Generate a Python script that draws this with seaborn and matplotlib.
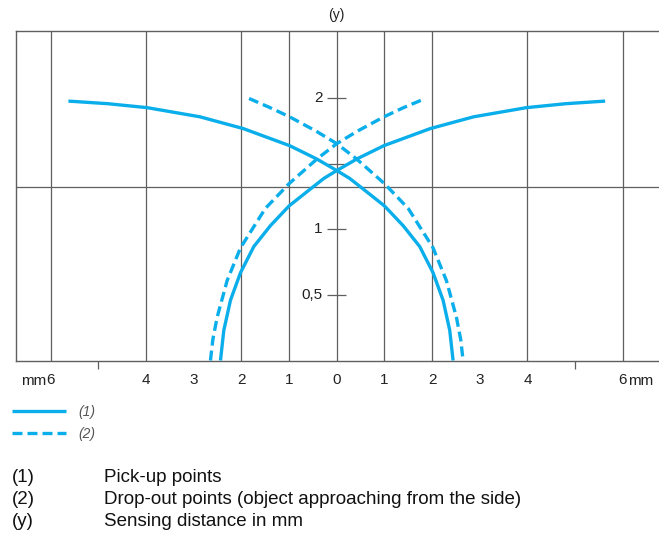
import matplotlib
matplotlib.use("Agg")
import matplotlib.pyplot as plt
import matplotlib.transforms as mtransforms
import seaborn as sns
import pandas as pd

# ---------------- data (mm) ----------------
# (1) Pick-up points, branch falling to the right
pickup_a_x = [-5.63, -4.8, -3.98, -2.87, -1.96, -0.99, -0.43, 0.0, 0.27, 0.55, 1.0, 1.39, 1.74, 2.02, 2.23, 2.37, 2.44]
pickup_a_y = [1.98, 1.96, 1.93, 1.86, 1.77, 1.64, 1.54, 1.45, 1.39, 1.31, 1.18, 1.03, 0.87, 0.67, 0.46, 0.23, 0.0]
# (1) Pick-up points, branch rising to the right
pickup_b_x = [-2.44, -2.37, -2.23, -2.02, -1.74, -1.39, -1.0, -0.55, -0.27, 0.0, 0.43, 0.99, 1.96, 2.87, 3.98, 4.8, 5.63]
pickup_b_y = [0.0, 0.23, 0.46, 0.67, 0.87, 1.03, 1.18, 1.31, 1.39, 1.45, 1.54, 1.64, 1.77, 1.86, 1.93, 1.96, 1.98]
# (2) Drop-out points, branch falling to the right
dropout_a_x = [-1.84, -1.4, -0.99, -0.43, 0.0, 0.41, 1.0, 1.5, 2.02, 2.30, 2.51, 2.60, 2.65]
dropout_a_y = [2.0, 1.93, 1.86, 1.75, 1.655, 1.54, 1.35, 1.16, 0.86, 0.61, 0.33, 0.16, 0.0]
# (2) Drop-out points, branch rising to the right
dropout_b_x = [-2.65, -2.60, -2.51, -2.30, -2.02, -1.5, -1.0, -0.41, 0.0, 0.43, 0.99, 1.4, 1.86]
dropout_b_y = [0.0, 0.16, 0.33, 0.61, 0.86, 1.16, 1.35, 1.54, 1.655, 1.75, 1.86, 1.93, 2.0]

x_tick_pos = [-6, -4, -3, -2, -1, 0, 1, 2, 3, 4, 6]
x_tick_labels = ["6", "4", "3", "2", "1", "0", "1", "2", "3", "4", "6"]
x_minor_ticks = [-5, -3, 3, 5]
x_grid = [-6, -4, -2, -1, 0, 1, 2, 4, 6]
y_tick_pos = [0.5, 1.0, 1.5, 2.0]
y_tick_labels = ["0,5", "1", "", "2"]
h_grid = [1.327]

legend_labels = ["(1)", "(2)"]
notes_keys = ["(1)", "(2)", "(y)"]
notes_text = ["Pick-up points",
              "Drop-out points (object approaching from the side)",
              "Sensing distance in mm"]

# ---------------- style ----------------
sns.set_theme(style="white")
plt.rcParams["font.family"] = ["Liberation Sans", "DejaVu Sans"]

BLUE = "#0AAEEA"
GRID = "#5f5f5f"
TXT = "#222222"
W, H = 659, 540
fig = plt.figure(figsize=(W / 100, H / 100), dpi=100)

left_px, right_px, top_px, bot_px = 15.5, 659, 31, 360.5
ax = fig.add_axes([left_px / W, 1 - bot_px / H, (right_px - left_px) / W, (bot_px - top_px) / H])
ax.set_xlim(-6.74, 6.76)
ax.set_ylim(0, 2.515)

for xv in x_grid:
    ax.axvline(xv, color=GRID, lw=0.9, zorder=1)
for yv in h_grid:
    ax.axhline(yv, color=GRID, lw=0.9, zorder=1)

df_pa = pd.DataFrame({"x": pickup_a_x, "y": pickup_a_y})
df_pb = pd.DataFrame({"x": pickup_b_x, "y": pickup_b_y})
df_da = pd.DataFrame({"x": dropout_a_x, "y": dropout_a_y})
df_db = pd.DataFrame({"x": dropout_b_x, "y": dropout_b_y})

LW = 2.4
DASH = (3.0, 1.5)
sns.lineplot(data=df_pa, x="x", y="y", sort=False, estimator=None, color=BLUE, lw=LW, ax=ax, zorder=3)
sns.lineplot(data=df_pb, x="x", y="y", sort=False, estimator=None, color=BLUE, lw=LW, ax=ax, zorder=3)
sns.lineplot(data=df_da, x="x", y="y", sort=False, estimator=None, color=BLUE, lw=LW, ax=ax, zorder=3,
             dashes=False, linestyle=(0, DASH))
sns.lineplot(data=df_db, x="x", y="y", sort=False, estimator=None, color=BLUE, lw=LW, ax=ax, zorder=3,
             dashes=False, linestyle=(0, DASH))
curve_lines = ax.lines[-4:]
for ln in curve_lines:
    ln.set_solid_capstyle("butt")
    ln.set_dash_capstyle("butt")
    ln.set_solid_joinstyle("round")
    ln.set_dash_joinstyle("round")

ax.set_xlabel("")
ax.set_ylabel("")

# spines
for s in ["left", "top", "bottom"]:
    ax.spines[s].set_color(GRID)
    ax.spines[s].set_linewidth(1.0)
ax.spines["right"].set_visible(False)

# x ticks
ax.set_xticks(x_tick_pos)
ax.set_xticklabels(x_tick_labels, fontsize=11, color=TXT)
ax.set_xticks(x_minor_ticks, minor=True)
ax.tick_params(axis="x", which="major", length=0, pad=9)
ax.tick_params(axis="x", which="minor", length=6, width=0.9, color=GRID, direction="out", bottom=True)
ax.set_yticks([])

trans = mtransforms.blended_transform_factory(ax.transData, ax.transAxes)
ax.text(-6.1, -0.062, "mm", transform=trans, ha="right", va="center", fontsize=11, color=TXT)
ax.text(6.12, -0.062, "mm", transform=trans, ha="left", va="center", fontsize=11, color=TXT)

# y-axis ticks on the centre line
ax.hlines(y_tick_pos, -0.2, 0.2, color=GRID, lw=0.9, zorder=2)
for yv, lab in zip(y_tick_pos, y_tick_labels):
    if lab:
        ax.text(-0.3, yv, lab, ha="right", va="center", fontsize=11, color=TXT)
ax.text(0, 1.048, "(y)", transform=trans, ha="center", va="center", fontsize=10, color=TXT)

# legend
leg = fig.legend(handles=[curve_lines[0], curve_lines[2]], labels=legend_labels,
                 loc="upper left", bbox_to_anchor=(12 / W, 1 - 405 / H),
                 frameon=False, borderpad=0, borderaxespad=0,
                 handlelength=3.9, handletextpad=0.85, labelspacing=0.55,
                 prop={"size": 10, "style": "italic"})
for t in leg.get_texts():
    t.set_color("#555555")

# notes
for i, (k, txt) in enumerate(zip(notes_keys, notes_text)):
    yc = 1 - (477 + i * 22.5) / H
    fig.text(12 / W, yc, k, ha="left", va="center", fontsize=13.5, color="#111111")
    fig.text(104 / W, yc, txt, ha="left", va="center", fontsize=13.5, color="#111111")

fig.savefig("out.png", dpi=100)
